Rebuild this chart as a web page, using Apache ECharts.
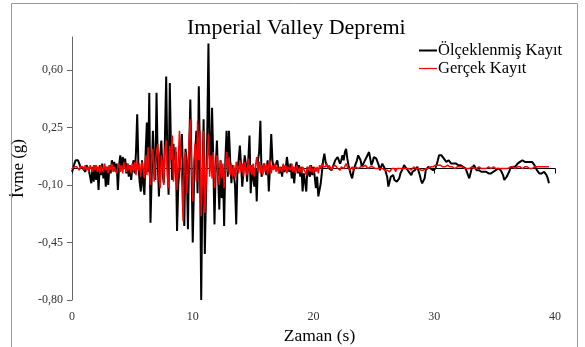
<!DOCTYPE html>
<html>
<head>
<meta charset="utf-8">
<script src="https://cdn.jsdelivr.net/npm/echarts@6/dist/echarts.min.js"></script>
<style>
  html, body { margin: 0; padding: 0; background: #fff; }
  #chart { width: 585px; height: 347px; }
</style>
</head>
<body>
<div id="chart"></div>
<script>
// Record sampling step (s)
const dt = 0.1;

const chartTitle = 'Imperial Valley Depremi';
const seriesNames = ['Ölçeklenmiş Kayıt', 'Gerçek Kayıt'];
const xTicks = [0, 10, 20, 30, 40];
const yTicks = [-0.80, -0.45, -0.10, 0.25, 0.60];

// Scaled record, acceleration (g), one row per second
const scaledAcc = [
  -0.02, 0.00, 0.03, 0.05, 0.06, 0.05, 0.03, 0.01, 0.00, 0.00,
  0.01, -0.02, 0.02, 0.03, -0.01, -0.05, -0.09, 0.01, -0.08, 0.02,
  -0.07, 0.01, -0.13, 0.02, -0.04, 0.03, -0.06, 0.00, -0.11, 0.01,
  -0.10, 0.02, -0.03, 0.05, 0.01, 0.04, -0.02, 0.03, -0.13, 0.02,
  0.08, -0.01, 0.07, 0.02, 0.06, -0.03, 0.03, -0.05, 0.02, -0.07,
  0.01, 0.05, -0.03, 0.10, 0.33, 0.02, -0.08, -0.14, 0.05, -0.10,
  -0.16, 0.10, 0.28, -0.02, 0.46, -0.33, -0.05, 0.23, 0.02, -0.07,
  0.46, 0.05, -0.17, 0.08, 0.17, -0.03, -0.09, 0.20, 0.56, 0.05,
  -0.16, 0.52, 0.10, -0.07, 0.15, 0.05, 0.10, -0.38, -0.10, 0.00,
  0.10, 0.21, -0.05, -0.35, 0.12, 0.05, -0.37, 0.10, 0.42, 0.00,
  -0.45, -0.10, 0.10, 0.23, -0.15, 0.50, 0.05, -0.80, -0.10, 0.30,
  -0.52, -0.15, 0.20, 0.76, 0.10, 0.02, 0.37, 0.05, -0.34, 0.00,
  0.17, -0.05, -0.25, 0.05, -0.18, 0.00, -0.35, 0.05, 0.23, -0.05,
  0.23, 0.05, -0.09, 0.02, 0.03, -0.10, -0.34, 0.00, 0.05, 0.14,
  0.02, -0.11, -0.02, 0.08, 0.03, -0.08, 0.05, 0.20, -0.15, 0.02,
  -0.06, -0.11, 0.00, -0.20, 0.05, 0.10, 0.29, -0.05, -0.05, 0.03,
  0.03, -0.04, 0.05, -0.14, 0.02, 0.21, 0.05, 0.00, -0.01, 0.03,
  0.05, 0.00, -0.03, 0.01, -0.05, 0.02, -0.02, 0.00, 0.07, 0.01,
  -0.02, 0.03, -0.06, 0.01, -0.09, 0.00, 0.04, -0.03, 0.02, -0.05,
  0.01, -0.14, -0.03, -0.08, -0.14, 0.01, -0.03, -0.05, 0.02, -0.04,
  0.01, -0.05, -0.12, -0.05, -0.17, -0.13, -0.09, -0.02, 0.05, 0.09,
  0.04, 0.02, 0.01, 0.00, -0.01, -0.01, 0.01, 0.03, 0.05, 0.04,
  0.07, 0.05, 0.03, 0.05, 0.08, 0.05, 0.10, 0.12, 0.06, 0.02,
  -0.01, -0.04, -0.06, -0.02, 0.01, 0.03, 0.05, 0.08, 0.09, 0.05,
  0.01, 0.02, 0.04, 0.03, 0.07, 0.08, 0.10, 0.06, 0.02, 0.04,
  0.07, 0.06, 0.06, 0.06, 0.02, -0.01, 0.01, 0.03, 0.02, 0.00,
  -0.01, -0.05, -0.11, -0.08, -0.05, -0.06, -0.04, -0.07, -0.06, -0.08,
  -0.09, -0.06, -0.03, -0.02, 0.00, 0.02, 0.01, 0.00, -0.01, -0.02,
  -0.03, -0.04, -0.02, -0.01, -0.01, 0.00, 0.01, 0.00, -0.04, -0.07,
  -0.09, -0.10, -0.06, -0.01, -0.01, 0.01, 0.02, 0.00, -0.01, -0.01,
  0.00, 0.00, 0.01, 0.05, 0.08, 0.09, 0.08, 0.07, 0.06, 0.05,
  0.04, 0.03, 0.05, 0.04, 0.03, 0.02, 0.03, 0.04, 0.03, 0.02,
  0.02, 0.01, 0.02, 0.01, 0.01, 0.00, 0.00, -0.02, -0.04, -0.06,
  -0.03, 0.00, 0.01, 0.02, 0.01, -0.01, -0.01, -0.01, 0.00, -0.02,
  -0.02, -0.02, -0.03, -0.02, -0.03, -0.03, -0.02, -0.03, -0.03, -0.02,
  -0.01, -0.01, -0.01, 0.00, -0.01, -0.01, -0.02, -0.04, -0.07, -0.06,
  -0.05, -0.04, -0.02, 0.00, 0.00, 0.01, 0.01, 0.01, 0.02, 0.03,
  0.03, 0.04, 0.05, 0.05, 0.04, 0.04, 0.05, 0.04, 0.04, 0.04,
  0.04, 0.04, 0.03, 0.02, 0.01, -0.01, -0.02, -0.03, -0.03, -0.03,
  -0.02, -0.02, -0.03, -0.04, -0.06, -0.09
];

// Recorded motion, acceleration (g), one row per second
const recordedAcc = [
  0.00, 0.00, 0.01, 0.00, 0.01, 0.00, -0.01, 0.01, 0.00, 0.01,
  -0.01, 0.02, -0.01, 0.01, -0.02, 0.02, 0.00, -0.02, 0.02, -0.01,
  0.02, -0.02, 0.01, -0.03, 0.02, 0.00, -0.02, 0.03, -0.01, 0.01,
  -0.03, 0.02, -0.01, 0.03, -0.02, 0.01, 0.02, -0.03, 0.01, 0.03,
  -0.02, 0.02, -0.03, 0.04, 0.00, -0.02, 0.03, -0.01, 0.02, -0.03,
  0.03, -0.02, 0.04, -0.04, 0.05, -0.01, 0.03, -0.05, 0.04, 0.00,
  -0.06, 0.08, -0.04, 0.13, -0.03, -0.10, 0.06, 0.12, -0.08, 0.04,
  0.10, 0.15, -0.06, -0.12, 0.08, 0.03, -0.10, 0.12, 0.17, -0.05,
  -0.12, 0.14, 0.05, 0.20, -0.08, 0.02, 0.13, -0.13, 0.05, 0.23,
  0.05, -0.10, -0.32, 0.06, 0.10, -0.15, -0.02, 0.18, 0.30, 0.02,
  -0.20, 0.05, 0.15, -0.08, 0.29, 0.05, 0.23, -0.29, -0.05, 0.23,
  -0.27, -0.10, 0.05, 0.21, -0.05, 0.08, -0.06, 0.10, -0.12, 0.02,
  0.08, -0.05, -0.10, 0.05, -0.06, 0.03, -0.12, 0.00, 0.10, -0.02,
  0.07, -0.04, 0.03, -0.05, 0.02, -0.06, 0.04, 0.01, -0.03, 0.05,
  -0.02, 0.03, -0.05, 0.04, 0.00, -0.04, 0.06, -0.03, 0.02, -0.04,
  0.03, -0.05, 0.02, 0.07, -0.02, 0.04, -0.03, 0.02, -0.04, 0.03,
  -0.02, 0.03, -0.04, 0.02, 0.05, -0.03, 0.02, -0.01, 0.03, -0.02,
  0.02, -0.03, 0.01, 0.02, -0.02, 0.03, -0.01, 0.02, -0.03, 0.01,
  0.02, -0.01, 0.03, -0.02, 0.01, -0.03, 0.02, 0.00, -0.02, 0.01,
  -0.03, 0.01, 0.02, -0.02, -0.04, 0.01, -0.01, 0.02, -0.02, 0.00,
  -0.03, 0.01, -0.02, 0.01, -0.03, 0.02, 0.00, 0.03, 0.01, 0.02,
  0.01, 0.03, 0.00, 0.02, 0.01, -0.01, 0.01, 0.00, 0.02, 0.01,
  0.00, 0.01, -0.01, 0.01, 0.02, 0.00, 0.01, 0.03, 0.01, 0.00,
  -0.01, 0.00, 0.01, -0.01, 0.00, 0.01, 0.02, 0.00, 0.01, 0.01,
  0.00, 0.01, 0.00, 0.02, 0.01, 0.00, -0.01, 0.01, 0.00, 0.01,
  0.01, 0.00, 0.01, 0.00, -0.01, 0.00, 0.01, 0.00, 0.00, -0.01,
  0.00, -0.01, 0.00, -0.02, -0.01, 0.00, -0.01, 0.00, -0.02, 0.00,
  -0.01, 0.00, -0.01, 0.00, 0.01, 0.00, 0.01, 0.00, -0.01, 0.00,
  0.00, -0.01, 0.00, 0.01, 0.00, 0.00, -0.01, 0.00, 0.00, -0.01,
  -0.02, -0.01, 0.00, 0.00, 0.01, 0.00, 0.00, 0.01, 0.00, 0.01,
  0.01, 0.02, 0.01, 0.02, 0.03, 0.02, 0.02, 0.01, 0.02, 0.01,
  0.01, 0.02, 0.01, 0.01, 0.02, 0.01, 0.01, 0.00, 0.01, 0.01,
  0.00, 0.01, 0.00, 0.01, 0.00, 0.00, 0.01, 0.00, -0.01, 0.00,
  0.00, 0.01, 0.00, 0.00, 0.01, 0.00, 0.00, 0.01, 0.00, 0.00,
  0.00, 0.00, 0.01, 0.00, 0.00, 0.01, 0.00, 0.00, 0.00, 0.01,
  0.00, 0.00, 0.01, 0.00, 0.00, 0.00, 0.01, 0.00, 0.00, 0.00,
  0.01, 0.00, 0.00, 0.01, 0.00, 0.01, 0.01, 0.00, 0.01, 0.01,
  0.01, 0.01, 0.01, 0.00, 0.01, 0.01, 0.00, 0.01, 0.01, 0.00,
  0.01, 0.00, 0.01, 0.01, 0.00, 0.01, 0.00, 0.01, 0.00, 0.01,
  0.00, 0.01, 0.00, 0.01, 0.00, 0.01
];

function toPairs(values) {
  return values.map((v, i) => [+(i * dt).toFixed(1), v]);
}

const serif = '"Liberation Serif", "Times New Roman", serif';
const comma = (v, d) => v.toFixed(d).replace('.', ',');

const chart = echarts.init(document.getElementById('chart'), null, { renderer: 'canvas' });

chart.setOption({
  animation: false,
  backgroundColor: '#fff',
  title: {
    text: chartTitle,
    left: 187,
    top: 17,
    padding: 0,
    textStyle: { fontFamily: serif, fontSize: 22, fontWeight: 'normal', color: '#000' }
  },
  legend: {
    orient: 'vertical',
    left: 414,
    top: 37,
    itemGap: 1,
    itemWidth: 18,
    itemHeight: 18,
    textStyle: { fontFamily: serif, fontSize: 16.5, color: '#000', padding: [0, 0, 0, -4] },
    data: [
      { name: seriesNames[0], icon: 'path://M0,8 L18,8 L18,10 L0,10 Z', itemStyle: { color: '#000' } },
      { name: seriesNames[1], icon: 'path://M0,8.5 L18,8.5 L18,9.7 L0,9.7 Z', itemStyle: { color: '#ff0000' } }
    ]
  },
  grid: { left: 72, right: 30, top: 37, bottom: 47, containLabel: false, outerBoundsMode: 'none' },
  xAxis: {
    type: 'value',
    min: 0,
    max: 40,
    interval: 10,
    name: 'Zaman (s)',
    nameLocation: 'middle',
    nameGap: 27,
    nameTextStyle: { fontFamily: serif, fontSize: 17.5, color: '#000', padding: [0, 0, 0, 12] },
    axisLine: { show: true, lineStyle: { color: '#000', width: 1 } },
    axisTick: { show: true, length: 5, lineStyle: { color: '#000' }, customValues: xTicks },
    axisLabel: {
      fontFamily: serif, fontSize: 12, color: '#333', margin: 11,
      customValues: xTicks,
      formatter: v => String(v)
    },
    splitLine: { show: false }
  },
  yAxis: {
    type: 'value',
    min: -0.80,
    max: 0.80,
    name: 'İvme (g)',
    nameLocation: 'middle',
    nameGap: 36,
    nameRotate: 90,
    nameTextStyle: { fontFamily: serif, fontSize: 17, color: '#000' },
    axisLine: { show: true, onZero: false, lineStyle: { color: '#666', width: 1 } },
    axisTick: { show: true, length: 5, lineStyle: { color: '#666' }, customValues: yTicks },
    axisLabel: {
      fontFamily: serif, fontSize: 12, color: '#333', margin: 9,
      customValues: yTicks,
      formatter: v => comma(v, 2)
    },
    splitLine: { show: false }
  },
  graphic: [{
    type: 'rect',
    shape: { x: 11.5, y: 3.5, width: 566, height: 360 },
    style: { fill: 'none', stroke: '#9a9a9a', lineWidth: 1 },
    silent: true,
    z: -1
  }],
  series: [
    {
      name: seriesNames[0],
      type: 'line',
      data: toPairs(scaledAcc),
      symbol: 'none',
      lineStyle: { color: '#000', width: 2 },
      itemStyle: { color: '#000' },
      z: 2
    },
    {
      name: seriesNames[1],
      type: 'line',
      data: toPairs(recordedAcc),
      symbol: 'none',
      lineStyle: { color: '#ff0000', width: 1.5 },
      itemStyle: { color: '#ff0000' },
      z: 3
    }
  ]
});
</script>
</body>
</html>
